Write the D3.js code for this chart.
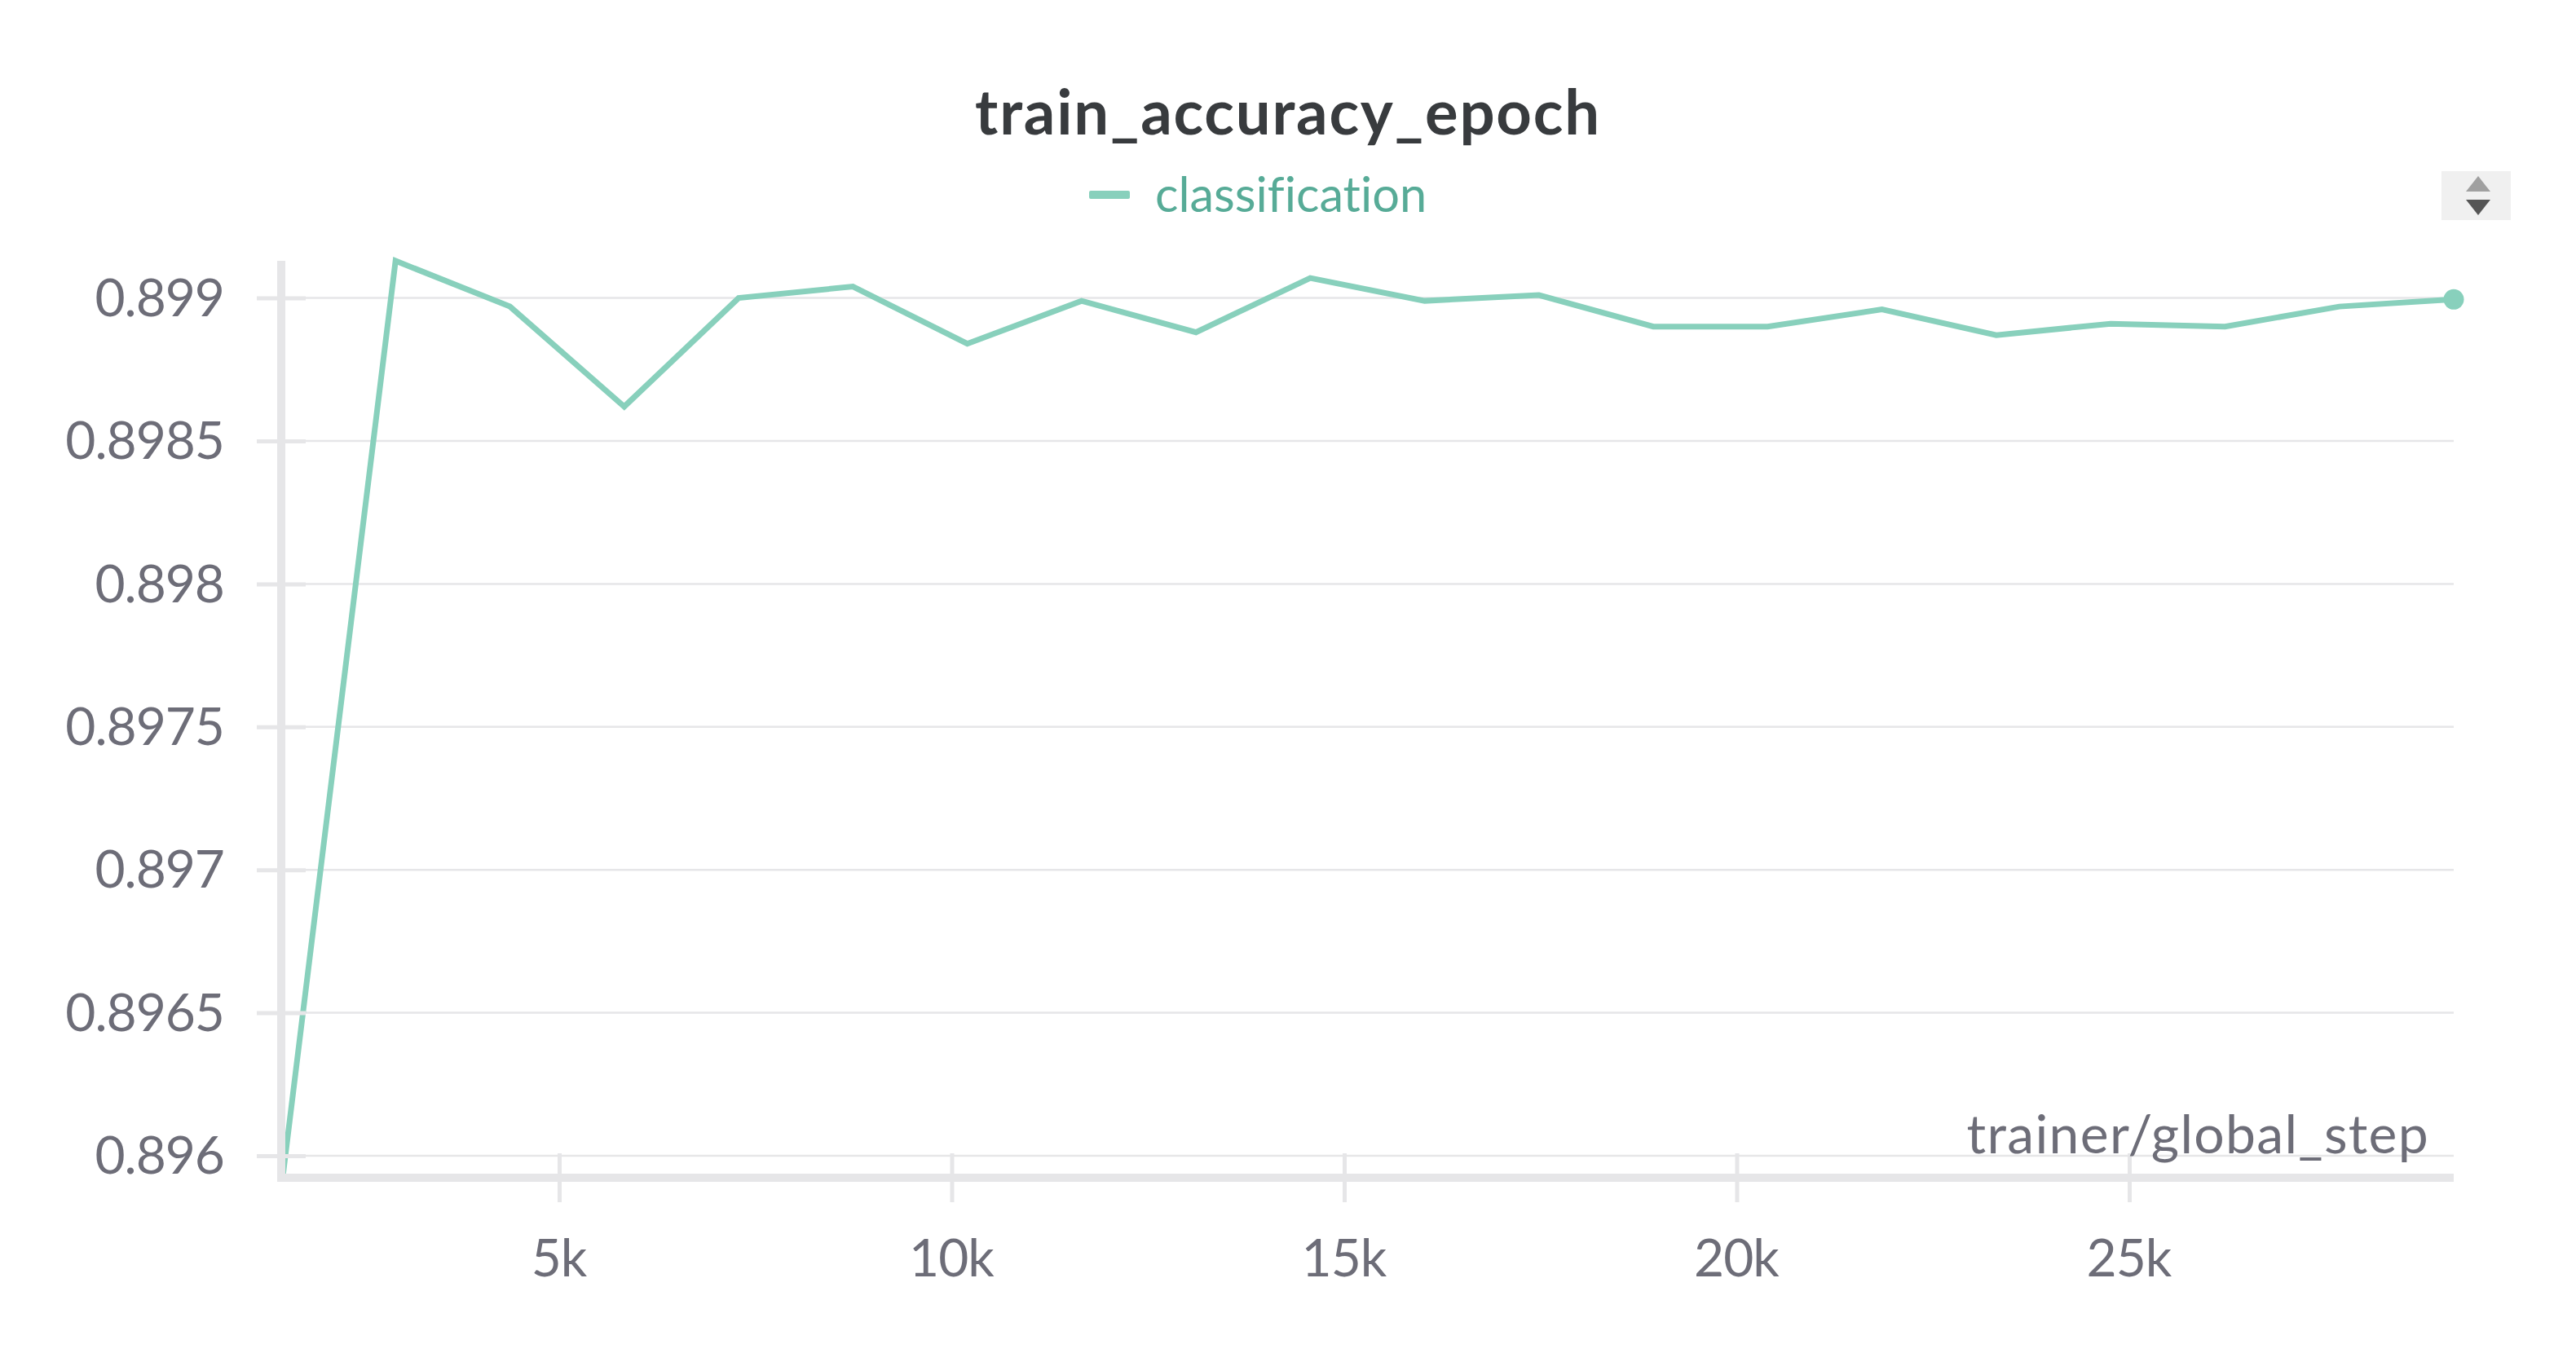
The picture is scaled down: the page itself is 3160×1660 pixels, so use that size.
<!DOCTYPE html>
<html>
<head>
<meta charset="utf-8">
<script src="https://cdn.jsdelivr.net/npm/d3@7"></script>
<style>
  html, body { margin: 0; padding: 0; background: #fff; }
  text { font-family: "Lato", sans-serif; font-variant-ligatures: none; }
</style>
</head>
<body>
<svg id="chart"></svg>
<script>
const steps = [1480, 2915, 4372, 5828, 7285, 8741, 10198, 11654, 13111, 14567, 16024, 17480, 18937, 20393, 21850, 23306, 24763, 26219, 27676, 29133]
const accuracy = [0.89593, 0.89913, 0.89897, 0.89862, 0.89900, 0.89904, 0.89884, 0.89899, 0.89888, 0.89907, 0.89899, 0.89901, 0.89890, 0.89890, 0.89896, 0.89887, 0.89891, 0.89890, 0.89897, 0.898995]
const xDomain = [1459, 29133]
const yDomain = [0.89592, 0.89913]
const xTicks = [5000, 10000, 15000, 20000, 25000]
const yTicks = [0.896, 0.8965, 0.897, 0.8975, 0.898, 0.8985, 0.899]
const yLabels = ["0.896", "0.8965", "0.897", "0.8975", "0.898", "0.8985", "0.899"]
const seriesName = "classification"
const lineColor = "#88d0bc"
const axisColor = "#e6e6e8"
const textColor = "#6d6d78"

const width = 3160, height = 1660
const plot = { left: 345, right: 3010, top: 320, bottom: 1445 }

let svg = d3.select("#chart")
    .attr("width", width)
    .attr("height", height)
    .style("display", "block")

let xScale = d3.scaleLinear()
    .domain(xDomain)
    .range([plot.left, plot.right])

let yScale = d3.scaleLinear()
    .domain(yDomain)
    .range([plot.bottom + 1, plot.top])

// horizontal grid lines
svg.append("g")
    .selectAll("line")
    .data(yTicks)
    .enter().append("line")
    .attr("x1", plot.left)
    .attr("x2", plot.right)
    .attr("y1", d => yScale(d))
    .attr("y2", d => yScale(d))
    .attr("stroke", axisColor)
    .attr("stroke-width", 2.5)

// series goes under the axes
const line = d3.line()
    .x((d, i) => xScale(steps[i]))
    .y(d => yScale(d))

svg.append("path")
    .datum(accuracy)
    .attr("fill", "none")
    .attr("stroke", lineColor)
    .attr("stroke-width", 7)
    .attr("stroke-linejoin", "miter")
    .attr("d", line)

svg.append("circle")
    .attr("cx", xScale(steps[steps.length - 1]))
    .attr("cy", yScale(accuracy[accuracy.length - 1]))
    .attr("r", 12.5)
    .attr("fill", lineColor)

// y axis, ticks cross the domain line
let yAxis = svg.append("g")
    .attr("transform", "translate(" + plot.left + ",0)")
    .call(d3.axisLeft(yScale).tickValues(yTicks).tickFormat((d, i) => yLabels[i]).tickSize(30).tickPadding(40))
yAxis.select(".domain").remove()
yAxis.selectAll(".tick line")
    .attr("x1", 30)
    .attr("stroke", axisColor)
    .attr("stroke-width", 5)
yAxis.selectAll(".tick text")
    .attr("dy", "0.34em")
yAxis.append("line")
    .attr("y1", plot.top)
    .attr("y2", plot.bottom + 5)
    .attr("stroke", axisColor)
    .attr("stroke-width", 10)

// x axis
let xAxis = svg.append("g")
    .attr("transform", "translate(0," + plot.bottom + ")")
    .call(d3.axisBottom(xScale).tickValues(xTicks).tickFormat(d => (d / 1000) + "k").tickSize(30).tickPadding(46))
xAxis.select(".domain").remove()
xAxis.selectAll(".tick line")
    .attr("y1", -30)
    .attr("stroke", axisColor)
    .attr("stroke-width", 5)
xAxis.selectAll(".tick text")
    .attr("dx", -1)
xAxis.append("line")
    .attr("x1", plot.left)
    .attr("x2", plot.right)
    .attr("stroke", axisColor)
    .attr("stroke-width", 10)

svg.selectAll(".tick text")
    .attr("fill", textColor)
    .attr("font-size", 64)
    .attr("letter-spacing", -1)
    .style("font-family", "Lato, sans-serif")

svg.append("text")
    .attr("x", 2980)
    .attr("y", 1415)
    .attr("text-anchor", "end")
    .attr("font-size", 66)
    .attr("letter-spacing", 1.3)
    .attr("fill", textColor)
    .text("trainer/global_step")

// title and legend
svg.append("text")
    .attr("x", 1580)
    .attr("y", 165)
    .attr("text-anchor", "middle")
    .attr("font-size", 76)
    .attr("font-weight", 700)
    .attr("letter-spacing", 1.8)
    .attr("fill", "#383b3e")
    .text("train_accuracy_epoch")

svg.append("rect")
    .attr("x", 1336)
    .attr("y", 234)
    .attr("width", 50)
    .attr("height", 10)
    .attr("rx", 2)
    .attr("fill", lineColor)

svg.append("text")
    .attr("x", 1417)
    .attr("y", 260)
    .attr("font-size", 59.5)
    .attr("fill", "#57ab97")
    .text(seriesName)

// legend scroll buttons
svg.append("rect")
    .attr("x", 2995)
    .attr("y", 210)
    .attr("width", 85)
    .attr("height", 60)
    .attr("fill", "#f0f0f0")
svg.append("path")
    .attr("d", d3.symbol(d3.symbolTriangle, 390))
    .attr("transform", "translate(3040,228.7) scale(1,0.73)")
    .attr("fill", "#a0a0a0")
svg.append("path")
    .attr("d", d3.symbol(d3.symbolTriangle, 390))
    .attr("transform", "translate(3040,251.3) rotate(180) scale(1,0.73)")
    .attr("fill", "#555555")
</script>
</body>
</html>
